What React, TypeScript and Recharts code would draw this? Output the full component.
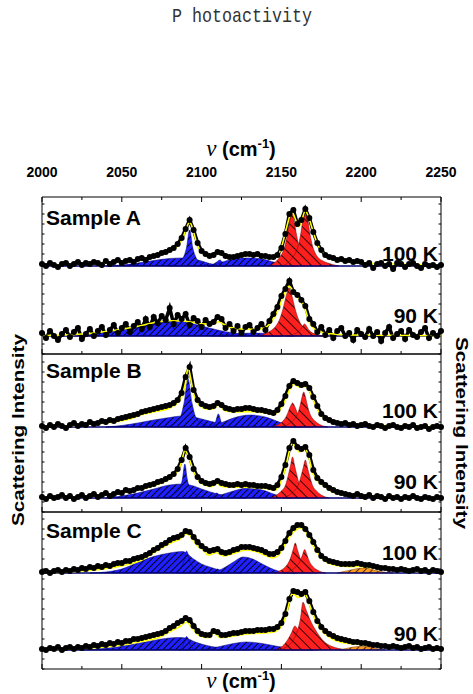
import React from "react";
import { ComposedChart, Line, Area, XAxis, YAxis } from "recharts";

type Pt = [number, number];

const X_TICKS = [2000, 2025, 2050, 2075, 2100, 2125, 2150, 2175, 2200, 2225, 2250];
const Y_TICKS = [0, 10, 20, 30, 40, 50, 60, 70, 80, 90, 100, 110, 120, 130, 140, 150];
const DOT_START = 2000;
const DOT_STEP = 2.5;
const BASELINE: Pt[] = [[2000, 0], [2250, 0]];

// ---- Sample A, 100 K ----
const fitA100: Pt[] = [[2000,1],[2025,2],[2050,4],[2060,5.5],[2070,9],[2076,12.7],[2080,15],[2085,20],[2088,27],[2090.5,38],[2092.5,43.7],[2094.5,37],[2096.7,24],[2099,16],[2101,12.7],[2104,9.8],[2106,9.3],[2109,11.5],[2111.8,13.7],[2114,10.5],[2117.7,7.7],[2123,9],[2130,10.3],[2137,9.7],[2144.6,7.7],[2148,11],[2150.8,23],[2153.5,40],[2156.6,54.3],[2158.5,48],[2160.8,39.3],[2163,47],[2165,55.3],[2167,49],[2169.6,36],[2172.5,22],[2175.8,14.3],[2180,8],[2186,5.3],[2200,3],[2222,2],[2250,1]];
const dotsA100 = [
  2,0,3,1,-1,2,3,0,2,4,
  1,3,2,4,3,1,5,2,4,6,
  3,5,6,4,7,8,6,9,10,11,
  13,14,16,18,22,28,37,46,36,23,
  15,12,10,11,14,13,10,9,9,10,
  11,12,12,11,12,10,10,9,9,11,
  18,32,52,56,42,46,57,48,34,23,
  16,11,9,8,6,7,5,6,4,5,
  4,1,3,-2,2,3,0,2,-3,3,
  2,-1,2,3,0,-2,2,0,1,-1,
  1,
];
const blueA100: Pt[][] = [
  [[2040,0],[2050,1],[2060,3],[2070,5.5],[2080,7.5],[2087.5,8],[2095,7],[2100,5],[2105,2.5],[2110,1],[2115,0]],
  [[2080,0],[2085,3],[2088,7],[2090.5,18],[2092.5,36],[2094.5,18],[2097,7],[2100,3],[2105,0]],
  [[2104,0],[2107,1.5],[2109.5,4],[2111.5,6],[2113,4],[2115.5,1.5],[2118,0]],
  [[2105,0],[2110,2],[2115,5],[2122,7.5],[2130,8],[2138,7],[2145,4],[2150,2],[2155,0.5],[2160,0]],
];
const redA100: Pt[][] = [
  [[2142,0],[2145,2.5],[2148.6,8],[2150.6,13],[2152.1,19.5],[2153.6,30],[2155.1,44],[2156.6,52],[2158.1,44],[2159.6,30],[2161.1,19.5],[2162.6,13],[2164.6,8],[2167.6,4.8],[2172,2],[2178,0]],
  [[2150,0],[2154,3],[2157,8.5],[2159,13.5],[2160.5,20],[2162,31],[2163.5,46],[2165,54],[2166.5,46],[2168,31],[2169.5,20],[2171,13.5],[2173,8.5],[2176,5],[2180,2.5],[2186,0]],
];

// ---- Sample A, 90 K ----
const fitA90: Pt[] = [[2000,0.3],[2025,2],[2034,3.3],[2045,5.5],[2055,8.3],[2065,11.5],[2072.5,14],[2080,15.3],[2087.5,15],[2095,13.5],[2100,12.3],[2105,11.8],[2108,12.5],[2111,14.3],[2113.5,12],[2117.7,8.7],[2125,7],[2134,6.7],[2140,8.5],[2143,12.7],[2146,20],[2148.5,28],[2151,39.3],[2153,46],[2154.8,50],[2157,46],[2159.4,41],[2161.5,36],[2163.5,32.7],[2165.5,24],[2167.7,12.7],[2170,8],[2174,4.3],[2180,2.5],[2191,1],[2250,0.3]];
const dotsA90 = [
  3,-2,5,0,-4,2,6,-1,4,8,
  -3,2,7,0,5,9,1,6,11,3,
  8,12,4,10,14,7,17,9,19,13,
  20,16,28,12,21,17,22,11,18,15,
  9,16,12,14,19,17,8,12,5,10,
  3,9,11,4,8,12,6,15,22,29,
  40,47,55,44,41,36,30,17,12,4,
  9,1,6,-2,5,8,0,3,-4,6,
  2,-1,7,0,4,-5,3,9,-2,2,
  5,-3,6,1,-1,4,8,-2,3,0,
  5,
];
const blueA90: Pt[][] = [
  [[2020,0],[2030,1.5],[2040,4],[2050,7.5],[2060,11],[2070,14],[2080,15.5],[2090,14],[2100,10],[2110,6],[2120,3],[2130,1.5],[2140,0.5],[2150,0]],
  [[2106,0],[2108.5,2],[2110.5,5],[2112.5,2],[2115,0]],
  [[2112,0],[2122,2],[2133,3],[2143,2],[2152,0.5],[2158,0]],
];
const redA90: Pt[][] = [
  [[2136,0],[2140,2.5],[2144,6],[2147,11],[2149,17],[2151,27],[2153,40],[2154.8,48],[2156.6,40],[2158.6,27],[2160.6,17],[2162.6,11],[2165.6,6],[2169.6,2.5],[2175,0]],
  [[2153,0],[2157,1.5],[2160,3.5],[2162,6.5],[2164.5,12],[2167,6.5],[2169,3.5],[2172,1.5],[2178,0]],
];

// ---- Sample B, 100 K ----
const fitB100: Pt[] = [[2000,0.3],[2025,2],[2040,4],[2055,8],[2062,12],[2070,15],[2080,19],[2085,24],[2087.5,30],[2090,45],[2091.5,59.5],[2093,50],[2095,33],[2097.5,24],[2100,20],[2103,18],[2106,17.7],[2108.5,19.5],[2110.5,22],[2112.5,19],[2115,16],[2120,15],[2128,15.3],[2135,15],[2140,14],[2146,13],[2149,17],[2152.5,27],[2155,37],[2158,42.7],[2161,40],[2164,40.5],[2166,40],[2169.5,28.7],[2172.5,18],[2175,11],[2180,5.3],[2190,2.5],[2200,2],[2250,0.3]];
const dotsB100 = [
  1,-1,2,0,3,1,-1,2,4,1,
  3,2,5,3,4,6,5,7,6,8,
  9,10,11,12,13,15,16,17,18,19,
  20,21,22,24,27,34,50,60,37,27,
  23,21,20,21,24,22,19,18,17,18,
  18,19,19,18,17,17,16,15,14,17,
  23,31,41,46,44,42,43,39,30,21,
  13,9,7,5,4,3,4,2,3,1,
  2,3,1,0,2,1,-1,1,2,0,
  -1,1,0,2,-1,0,1,-2,0,1,
  0,
];
const blueB100: Pt[][] = [
  [[2040,0],[2050,1.5],[2060,4],[2070,7],[2080,9.5],[2088,11],[2095,10],[2100,8],[2110,4],[2120,1.5],[2130,0]],
  [[2078,0],[2082,2.5],[2085,6],[2087,11],[2089,24],[2091.5,48],[2094,24],[2096,11],[2098,6],[2101,2.5],[2105,0]],
  [[2106,0],[2108.5,4],[2110.5,13],[2112.5,4],[2115,0]],
  [[2105,0],[2112,4],[2120,9],[2130,12],[2140,10],[2147,6],[2152,3],[2158,1],[2162,0]],
];
const redB100: Pt[][] = [
  [[2144,0],[2148,2.5],[2151,6],[2153.5,12],[2155.5,20],[2157,24],[2158.5,20],[2160.5,12],[2163,6],[2166,2.5],[2170,0]],
  [[2150,0],[2154,2.5],[2157,6],[2159.5,11],[2161.5,20],[2162.8,29],[2164,35],[2165.2,29],[2166.5,20],[2168.5,11],[2171,6],[2174,2.5],[2179,0]],
];

// ---- Sample B, 90 K ----
const fitB90: Pt[] = [[2000,0.5],[2025,1.3],[2040,3],[2055,6.3],[2065,10],[2075,15],[2081.6,21],[2085,27],[2087.5,36],[2089.5,48],[2092,40],[2095.6,24.7],[2098.6,16.3],[2102,13],[2106,11.3],[2109.4,14.7],[2112,12],[2115,11],[2128,10.7],[2140,9.5],[2146,8],[2148.5,12],[2150.8,21],[2153,33],[2155,47],[2157,54.7],[2159,50],[2161,46.3],[2163,47],[2165,48.7],[2167,42],[2169.6,25],[2172.5,17],[2175.8,13],[2180,8],[2184,4.7],[2190,2.5],[2200,1.5],[2250,0.5]];
const dotsB90 = [
  1,-1,2,0,1,3,0,2,-1,1,
  3,0,2,4,1,3,5,2,4,6,
  5,8,7,8,10,10,12,13,14,16,
  17,19,21,24,29,38,50,41,29,21,
  17,15,14,15,17,15,14,13,13,14,
  13,14,13,13,12,12,12,11,10,13,
  21,33,50,57,51,49,51,43,28,20,
  16,13,10,8,6,5,4,3,2,4,
  2,1,3,0,2,1,-1,2,0,1,
  -1,1,0,2,0,-1,1,0,-1,1,
  0,
];
const blueB90: Pt[][] = [
  [[2040,0],[2050,2],[2060,5],[2070,9],[2080,13],[2088,14],[2095,12],[2100,9],[2110,4],[2120,1],[2128,0]],
  [[2077,0],[2081,2],[2084,5],[2086.5,10],[2088,19],[2089.5,34],[2091,19],[2092.5,10],[2095,5],[2098,2],[2102,0]],
  [[2105,0],[2107.5,2],[2109.5,5],[2111.5,2],[2114,0]],
  [[2105,0],[2112,3],[2120,7],[2128,9.7],[2138,8],[2145,4],[2150,1.5],[2156,0]],
];
const redB90: Pt[][] = [
  [[2143,0],[2147,3],[2150,7],[2152.5,12.5],[2154.5,24],[2155.8,33],[2157,41],[2158.2,33],[2159.5,24],[2161.5,12.5],[2164,7],[2167,3],[2172,0]],
  [[2151,0],[2155,3],[2158,7],[2160.5,12.5],[2162.5,23],[2163.8,31],[2165,38],[2166.2,31],[2167.5,23],[2169.5,12.5],[2172,7],[2175,3],[2180,0]],
];

// ---- Sample C, 100 K ----
const fitC100: Pt[] = [[2000,0],[2020,1.6],[2035,3.4],[2045,5.6],[2055,9],[2061,12],[2068,18],[2074,24],[2082,31],[2086,33.5],[2090.6,39],[2093,37],[2095,32],[2098,26],[2101,23],[2104,18],[2106.5,18.8],[2109,20.5],[2111.5,18.5],[2113.6,17],[2120,19.5],[2128,23],[2135,21],[2140,17.5],[2144.6,15],[2148,17.5],[2150,22],[2153,31],[2157,40],[2161.8,45],[2165,41],[2169.7,28],[2173,19],[2178,11],[2183,8],[2190,6.6],[2195,6.4],[2200,6.5],[2205,5.8],[2210,4.5],[2220,2.8],[2250,1]];
const dotsC100 = [
  1,2,0,2,3,1,3,2,4,3,
  5,4,6,5,7,6,8,7,9,10,
  10,12,12,14,15,16,18,20,23,25,
  28,30,33,35,36,38,42,41,36,31,
  27,24,22,23,24,21,20,21,23,24,
  26,26,26,25,24,23,21,19,19,21,
  25,32,40,45,48,48,44,38,31,23,
  17,14,12,11,10,9,9,9,9,10,
  9,8,8,7,6,5,5,4,4,3,
  4,3,2,3,4,2,3,1,3,2,
  1,
];
const blueC100: Pt[][] = [
  [[2030,0],[2040,1],[2050,4],[2060,10.5],[2070,16.5],[2080,20],[2088,21.5],[2095,14],[2100,9],[2105,6],[2110,3.5],[2118,1],[2125,0]],
  [[2084,0],[2087,5],[2089,12],[2090.6,22],[2092.5,12],[2095,5],[2099,1],[2103,0]],
  [[2106,0],[2108.5,2],[2110,4],[2111.5,2],[2114,0]],
  [[2105,0],[2110,2],[2115,6],[2120,11],[2126,16],[2132,14],[2138,9],[2143,5],[2148,2],[2155,0.5],[2160,0]],
];
const redC100: Pt[][] = [
  [[2146,0],[2150,3],[2153,7],[2155.5,14],[2157.3,23],[2158.7,30],[2160.1,23],[2162,14],[2164.5,7],[2167.5,3],[2172,0]],
  [[2152,0],[2156,2.5],[2159,6],[2161.5,11],[2163.2,18],[2164.6,23.5],[2166,18],[2167.7,11],[2170,6],[2173,2.5],[2178,0]],
];
const orangeC100: Pt[][] = [
  [[2185,0],[2192,2.5],[2198,4.5],[2203,5],[2208,3],[2214,1],[2220,0]],
];

// ---- Sample C, 90 K ----
const fitC90: Pt[] = [[2000,0],[2020,1.3],[2035,2.5],[2050,5],[2061,8.3],[2074,13],[2082,20],[2086,23],[2090.6,28],[2094,22],[2098,15],[2101,13],[2104,12.3],[2108,17],[2110.5,13.5],[2112,12.3],[2120,14],[2128,16],[2140,17],[2145,18],[2150,24],[2153,35],[2155,48],[2156.5,56],[2158.5,55],[2160.5,52.6],[2163,54],[2165,55.5],[2167.7,45],[2170,35],[2172,28],[2175,20],[2178,15],[2182,11],[2186.6,8],[2195,6],[2200,5.5],[2205,4.5],[2215,3],[2250,1]];
const dotsC90 = [
  1,0,2,1,3,0,2,3,1,3,
  2,4,3,5,4,6,5,7,6,8,
  7,9,9,11,11,12,13,14,15,16,
  17,19,22,24,27,29,32,30,24,19,
  16,15,15,19,18,15,15,16,17,17,
  18,19,19,19,20,20,20,21,21,23,
  27,36,51,59,58,56,58,49,38,29,
  23,19,16,14,12,11,10,9,8,8,
  7,7,6,5,5,4,4,3,4,3,
  2,3,4,2,3,1,2,3,1,2,
  1,
];
const blueC90: Pt[][] = [
  [[2025,0],[2035,1],[2045,2.5],[2055,5],[2065,8],[2075,11],[2085,12.5],[2090,12],[2096,8],[2102,5],[2110,2.5],[2120,1],[2130,0]],
  [[2086,0],[2088.5,5],[2090.6,13.5],[2093,5],[2096,0]],
  [[2100,0],[2110,3],[2120,6.5],[2128,8],[2138,6.5],[2148,3.5],[2158,1.5],[2170,0]],
];
const redC90: Pt[][] = [
  [[2146,0],[2150,3],[2153,8],[2156,16],[2158.5,24],[2161,18],[2164,10],[2168,4],[2173,0]],
  [[2149,0],[2154,4],[2157.5,10],[2160,19],[2162,32],[2163.5,47.7],[2165.5,40],[2168,30],[2171,21],[2174,13.5],[2177,8],[2181,4],[2186,1.5],[2191,0]],
];
const orangeC90: Pt[][] = [
  [[2186,0],[2192,2],[2198,3.5],[2203,3.5],[2208,2],[2215,0]],
];

const BOXES = [
  { top: 197, height: 157, name: "Sample A", nameY: 225 },
  { top: 354, height: 158, name: "Sample B", nameY: 378 },
  { top: 512, height: 157, name: "Sample C", nameY: 538 },
];

const SPECTRA = [
  { box: 0, offset: 88, temp: "100 K", tempY: 261, fit: fitA100, dots: dotsA100, blue: blueA100, red: redA100, orange: [] as Pt[][] },
  { box: 0, offset: 18, temp: "90 K", tempY: 323, fit: fitA90, dots: dotsA90, blue: blueA90, red: redA90, orange: [] as Pt[][] },
  { box: 1, offset: 85, temp: "100 K", tempY: 418, fit: fitB100, dots: dotsB100, blue: blueB100, red: redB100, orange: [] as Pt[][] },
  { box: 1, offset: 14, temp: "90 K", tempY: 489, fit: fitB90, dots: dotsB90, blue: blueB90, red: redB90, orange: [] as Pt[][] },
  { box: 2, offset: 96, temp: "100 K", tempY: 560, fit: fitC100, dots: dotsC100, blue: blueC100, red: redC100, orange: orangeC100 },
  { box: 2, offset: 19, temp: "90 K", tempY: 641, fit: fitC90, dots: dotsC90, blue: blueC90, red: redC90, orange: orangeC90 },
];

const SANS = "'Liberation Sans', Arial, sans-serif";
const MARGIN = 40;

const toRange = (pts: Pt[], off: number) => pts.map(([x, v]) => ({ x, y: [off, off + v] }));
const toLine = (pts: Pt[], off: number) => pts.map(([x, v]) => ({ x, y: off + v }));

function XTick(props: any) {
  const { x, y, payload, side, showLabel, showTick } = props;
  const major = payload.value % 50 === 0;
  const len = major ? 5 : 3;
  const dir = side === "top" ? 1 : -1;
  return (
    <g>
      {showTick && <line x1={x} x2={x} y1={y} y2={y + dir * len} stroke="#000" strokeWidth={1} />}
      {showLabel && major && (
        <text x={x} y={y - 20} textAnchor="middle" fontFamily={SANS} fontWeight="bold" fontSize={14} fill="#000">
          {payload.value}
        </text>
      )}
    </g>
  );
}

const dotShape = (p: any) => <circle key={p.index} cx={p.cx} cy={p.cy} r={3} fill="#000" />;

function SpectrumBox({ index }: { index: number }) {
  const box = BOXES[index];
  const items = SPECTRA.filter((s) => s.box === index);
  const series: React.ReactNode[] = [];
  const addAreas = (comps: Pt[][], off: number, fill: string, stroke: string, key: string) =>
    comps.forEach((c, ci) =>
      series.push(
        <Area key={`${key}-${ci}`} xAxisId="x" yAxisId="y" data={toRange(c, off)} dataKey="y" type="monotone"
          fill={fill} fillOpacity={1} stroke={stroke} strokeWidth={0.5} dot={false} activeDot={false} isAnimationActive={false} />
      )
    );
  items.forEach((s, si) => {
    addAreas(s.blue, s.offset, `url(#blue-${index})`, "#00007a", `b${si}`);
    addAreas(s.red, s.offset, `url(#red-${index})`, "#7a0000", `r${si}`);
    addAreas(s.orange, s.offset, `url(#orange-${index})`, "#7a3a00", `o${si}`);
  });
  items.forEach((s, si) =>
    series.push(
      <Line key={`base${si}`} xAxisId="x" yAxisId="y" data={toLine(BASELINE, s.offset)} dataKey="y" type="linear"
        stroke="#000070" strokeWidth={1.5} dot={false} activeDot={false} isAnimationActive={false} />
    )
  );
  items.forEach((s, si) =>
    series.push(
      <Line key={`d${si}`} xAxisId="x" yAxisId="y" dataKey="y" type="linear" stroke="#000" strokeWidth={3.5}
        dot={dotShape} activeDot={false} isAnimationActive={false}
        data={s.dots.map((v, i) => ({ x: DOT_START + DOT_STEP * i, y: s.offset + v }))} />
    )
  );
  items.forEach((s, si) =>
    series.push(
      <Line key={`fit${si}`} xAxisId="x" yAxisId="y" data={toLine(s.fit, s.offset)} dataKey="y" type="monotone"
        stroke="#ffff00" strokeWidth={1.6} dot={false} activeDot={false} isAnimationActive={false} />
    )
  );

  return (
    <div style={{ position: "absolute", left: 0, top: box.top - MARGIN }}>
      <ComposedChart width={473} height={box.height + 2 * MARGIN}
        margin={{ top: MARGIN - 1, right: 31, bottom: MARGIN - 1, left: 41 }}>
        <defs>
          <pattern id={`blue-${index}`} patternUnits="userSpaceOnUse" width={4.5} height={4.5} patternTransform="rotate(45)">
            <rect width={4.5} height={4.5} fill="#1f1fff" />
            <line x1={2.25} y1={0} x2={2.25} y2={4.5} stroke="#000" strokeWidth={0.9} />
          </pattern>
          <pattern id={`red-${index}`} patternUnits="userSpaceOnUse" width={7} height={7} patternTransform="rotate(-45)">
            <rect width={7} height={7} fill="#ff1f1f" />
            <line x1={3.5} y1={0} x2={3.5} y2={7} stroke="#000" strokeWidth={0.8} />
          </pattern>
          <pattern id={`orange-${index}`} patternUnits="userSpaceOnUse" width={5} height={5} patternTransform="rotate(45)">
            <rect width={5} height={5} fill="#ff9a1a" />
            <line x1={2.5} y1={0} x2={2.5} y2={5} stroke="#000" strokeWidth={0.7} />
          </pattern>
        </defs>
        <XAxis xAxisId="top" orientation="top" type="number" dataKey="x" domain={[2000, 2250]} allowDataOverflow
          ticks={X_TICKS} interval={0} height={1} tickSize={0} tickMargin={0} tickLine={false}
          axisLine={{ stroke: "#000", strokeWidth: 1 }}
          tick={(p: any) => <XTick {...p} side="top" showLabel={index === 0} showTick={index === 0} />} />
        <XAxis xAxisId="x" orientation="bottom" type="number" dataKey="x" domain={[2000, 2250]}
          ticks={X_TICKS} interval={0} height={1} tickSize={0} tickMargin={0} tickLine={false}
          axisLine={{ stroke: "#000", strokeWidth: 1 }}
          tick={(p: any) => <XTick {...p} side="bottom" showLabel={false} showTick />} />
        <YAxis yAxisId="y" orientation="left" type="number" domain={[0, box.height]} allowDataOverflow
          ticks={Y_TICKS} interval={0} width={1} tickSize={0} tickMargin={0} tickLine={false}
          axisLine={{ stroke: "#000", strokeWidth: 1 }}
          tick={(p: any) => <line x1={p.x} x2={p.x + 2.5} y1={p.y} y2={p.y} stroke="#000" />} />
        <YAxis yAxisId="yr" orientation="right" type="number" domain={[0, box.height]} allowDataOverflow
          ticks={Y_TICKS} interval={0} width={1} tickSize={0} tickMargin={0} tickLine={false}
          axisLine={{ stroke: "#000", strokeWidth: 1 }}
          tick={(p: any) => <line x1={p.x} x2={p.x - 2.5} y1={p.y} y2={p.y} stroke="#000" />} />
        {series}
      </ComposedChart>
    </div>
  );
}

function AxisTitle({ y }: { y: number }) {
  return (
    <text x={241} y={y} textAnchor="middle" fontFamily={SANS} fontWeight="bold" fontSize={20} fill="#000">
      <tspan fontFamily="'Liberation Serif', serif" fontStyle="italic" fontWeight="normal" fontSize={23}>ν</tspan>
      <tspan>{" (cm"}</tspan>
      <tspan dy={-8} fontSize={13}>-1</tspan>
      <tspan dy={8}>)</tspan>
    </text>
  );
}

export default function App() {
  return (
    <div style={{ position: "absolute", left: 0, top: 0, width: 473, height: 694, background: "#fff", overflow: "hidden" }}>
      {BOXES.map((_, i) => (
        <SpectrumBox key={i} index={i} />
      ))}
      <svg width={473} height={694} style={{ position: "absolute", left: 0, top: 0, pointerEvents: "none" }}>
        <text x={242} y={22} textAnchor="middle" fontFamily="'Liberation Mono', 'DejaVu Sans Mono', monospace" fontSize={21}
          textLength={140} lengthAdjust="spacingAndGlyphs" fill="#333">
          P hotoactivity
        </text>
        <AxisTitle y={156} />
        <AxisTitle y={688} />
        {BOXES.map((b) => (
          <text key={b.name} x={46} y={b.nameY} fontFamily={SANS} fontWeight="bold" fontSize={21} fill="#000">
            {b.name}
          </text>
        ))}
        {SPECTRA.map((s, i) => (
          <text key={i} x={438} y={s.tempY} textAnchor="end" fontFamily={SANS} fontWeight="bold" fontSize={21} fill="#000">
            {s.temp}
          </text>
        ))}
        <text transform="translate(24,430) rotate(-90)" textAnchor="middle" fontFamily={SANS} fontWeight="bold" fontSize={17}
          textLength={192} lengthAdjust="spacingAndGlyphs" fill="#000">
          Scattering Intensity
        </text>
        <text transform="translate(456,433) rotate(90)" textAnchor="middle" fontFamily={SANS} fontWeight="bold" fontSize={17}
          textLength={192} lengthAdjust="spacingAndGlyphs" fill="#000">
          Scattering Intensity
        </text>
      </svg>
    </div>
  );
}
